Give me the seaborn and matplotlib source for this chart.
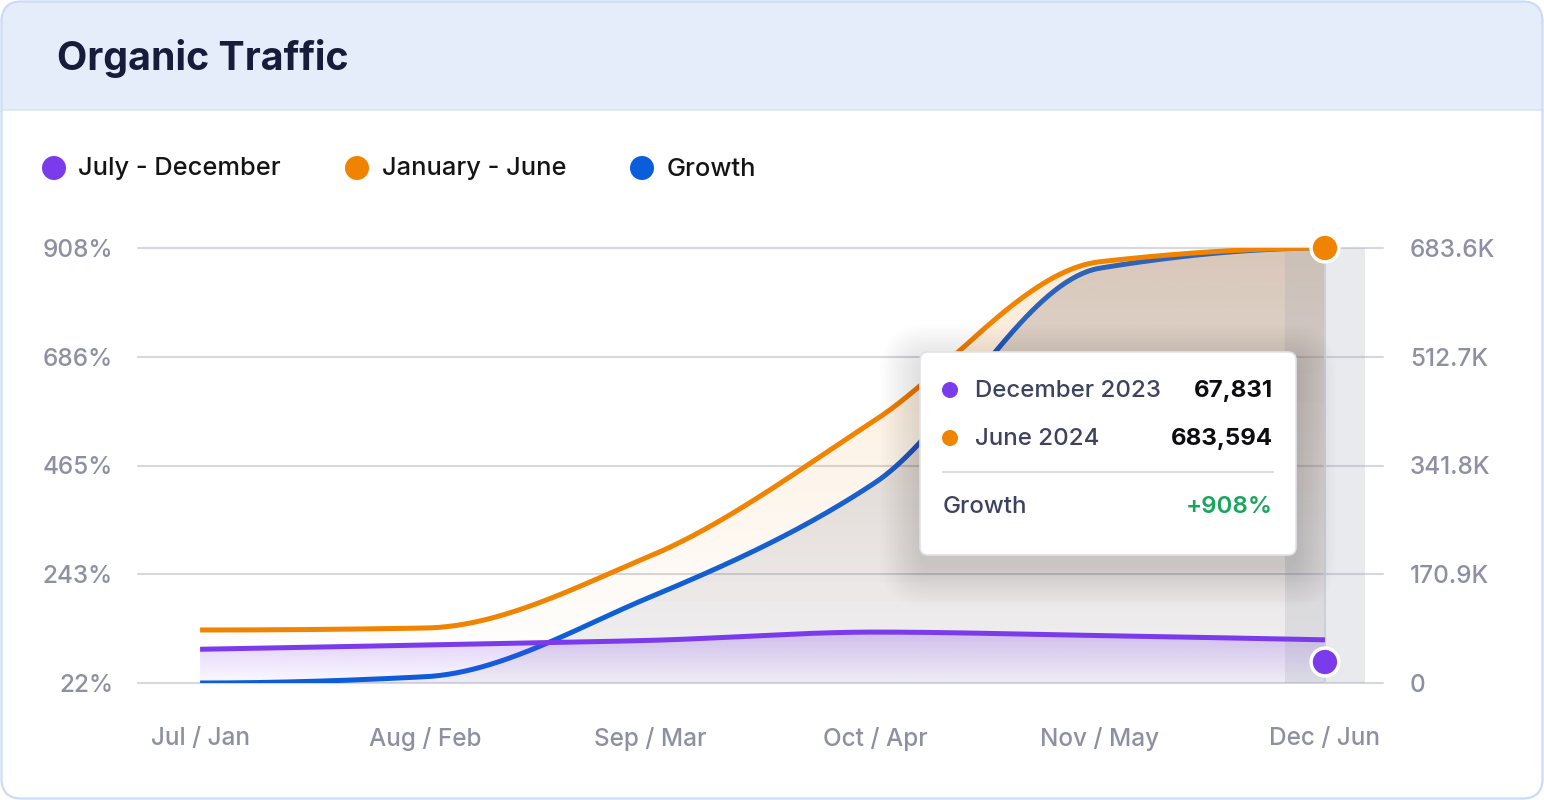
import numpy as np
import pandas as pd
import matplotlib
matplotlib.use("Agg")
import matplotlib.pyplot as plt
import matplotlib.transforms as mtransforms
from matplotlib.colors import to_rgb
from matplotlib.patches import FancyBboxPatch, Rectangle, Circle
from matplotlib.lines import Line2D
import seaborn as sns

# Values
categories = ["Jul / Jan", "Aug / Feb", "Sep / Mar", "Oct / Apr", "Nov / May", "Dec / Jun"]
jul_dec = [53000, 59700, 67000, 80000, 74500, 67831]
jan_jun = [83300, 86400, 199500, 413000, 662000, 683594]
growth = [22, 34.8, 197, 430, 867, 908]

left_ticks = [22, 243, 465, 686, 908]
right_ticks = [0, 170900, 341800, 512700, 683600]
right_labels = ["0", "170.9K", "341.8K", "512.7K", "683.6K"]

series_names = ["July - December", "January - June", "Growth"]
tooltip_rows = ["December 2023", "June 2024"]
hover_dot_jul_dec = 33000  # the purple hover dot sits below its line in the original

PURPLE = "#7C3AED"
ORANGE = "#F08300"
BLUE = "#0A5EDB"
GRID = "#D6D8DF"
TICK_TXT = "#8D90A3"

W, H = 1544, 800

sns.set_theme(style="white")
plt.rcParams["font.family"] = ["Inter", "DejaVu Sans"]


def smooth(xk, yk, n=400):
    # monotone cubic curve through the points (curve style of the original)
    xk = np.asarray(xk, float)
    yk = np.asarray(yk, float)
    h = np.diff(xk)
    d = np.diff(yk) / h
    m = np.zeros_like(yk)
    for k in range(1, len(yk) - 1):
        if d[k - 1] * d[k] > 0:
            w1 = 2 * h[k] + h[k - 1]
            w2 = h[k] + 2 * h[k - 1]
            m[k] = (w1 + w2) / (w1 / d[k - 1] + w2 / d[k])
    for i, (a, b, ha, hb) in enumerate([(d[0], d[1], h[0], h[1]), (d[-1], d[-2], h[-1], h[-2])]):
        e = ((2 * ha + hb) * a - ha * b) / (ha + hb)
        if np.sign(e) != np.sign(a):
            e = 0
        elif np.sign(a) != np.sign(b) and abs(e) > 3 * abs(a):
            e = 3 * a
        m[0 if i == 0 else -1] = e
    xs = np.linspace(xk[0], xk[-1], n)
    idx = np.clip(np.searchsorted(xk, xs, side="right") - 1, 0, len(xk) - 2)
    t = (xs - xk[idx]) / h[idx]
    h00 = 2 * t**3 - 3 * t**2 + 1
    h10 = t**3 - 2 * t**2 + t
    h01 = -2 * t**3 + 3 * t**2
    h11 = t**3 - t**2
    ys = h00 * yk[idx] + h10 * h[idx] * m[idx] + h01 * yk[idx + 1] + h11 * h[idx] * m[idx + 1]
    return xs, ys


def gradient_fill(ax, xs, ytop, ybot, color, a_hi, a_lo, y_hi, y_lo, zorder):
    poly = ax.fill_between(xs, ybot, ytop, facecolor="none", edgecolor="none")
    x0, x1 = ax.get_xlim()
    b0, b1 = ax.get_ylim()
    yv = np.linspace(b0, b1, 400)
    img = np.zeros((400, 2, 4))
    img[..., :3] = to_rgb(color)
    img[..., 3] = np.interp(yv, [y_lo, y_hi], [a_lo, a_hi])[:, None]
    im = ax.imshow(img, extent=[x0, x1, b0, b1], origin="lower", aspect="auto",
                   zorder=zorder, interpolation="bilinear")
    im.set_clip_path(poly.get_paths()[0], transform=ax.transData)
    ax.set_xlim(x0, x1)
    ax.set_ylim(b0, b1)


fig = plt.figure(figsize=(W / 100, H / 100), dpi=100)
fig.patch.set_facecolor("white")
# pixel coordinates, origin top-left
PX = mtransforms.Affine2D().scale(1 / W, -1 / H).translate(0, 1) + fig.transFigure

# card + header
card = FancyBboxPatch((1.5, 1.5), W - 3, H - 3, boxstyle="round,pad=0,rounding_size=20",
                      transform=PX, facecolor="white", edgecolor="none", zorder=-3)
fig.add_artist(card)
header = Rectangle((0, 0), W, 110, transform=PX, facecolor="#E5EDFA", edgecolor="none", zorder=-2)
fig.add_artist(header)
header.set_clip_path(card)
fig.add_artist(Line2D([1.5, W - 1.5], [110, 110], transform=PX, color="#D9E4F6", lw=1.2, zorder=-2))
fig.add_artist(FancyBboxPatch((1.5, 1.5), W - 3, H - 3, boxstyle="round,pad=0,rounding_size=20",
                              transform=PX, facecolor="none", edgecolor="#CADCF8", lw=1.6, zorder=-1))

fig.text(57, 58, "Organic Traffic", transform=PX, fontsize=28.3, fontweight="bold",
         color="#161C3A", va="center", ha="left")

# legend
for cx, tx, col, name in zip([54, 357, 642], [78, 382, 667], [PURPLE, ORANGE, BLUE], series_names):
    fig.add_artist(Circle((cx, 168), 12, transform=PX, facecolor=col, edgecolor="none"))
    fig.text(tx, 169, name, transform=PX, fontsize=18.3, fontweight="medium", color="#141414",
             va="center", ha="left")

# chart axes
ax = fig.add_axes([138 / W, (H - 683) / H, (1383 - 138) / W, (683 - 248) / H])
ax.set_facecolor("none")
ax2 = ax.twinx()
xk = np.arange(len(categories))
ax.set_xlim(-0.276, 5.258)
ax.set_ylim(left_ticks[0], left_ticks[-1])
ax2.set_ylim(right_ticks[0], right_ticks[-1])

xs, g_s = smooth(xk, growth)
_, o_s = smooth(xk, jan_jun)
_, p_s = smooth(xk, jul_dec)

# left axis: grey area + growth line
gradient_fill(ax, xs, g_s, np.full_like(xs, left_ticks[0]), "#5A5F82", 0.26, 0.08,
              left_ticks[-1], left_ticks[0], zorder=2)
sns.lineplot(data=pd.DataFrame({"x": xs, "y": g_s}), x="x", y="y", ax=ax, color=BLUE,
             lw=3.6, estimator=None, sort=False, solid_capstyle="butt", zorder=4)

# right axis: traffic areas + lines
gradient_fill(ax2, xs, p_s, np.zeros_like(xs), PURPLE, 0.26, 0.03, 80000, 0, zorder=2)
gradient_fill(ax2, xs, o_s, np.zeros_like(xs), ORANGE, 0.17, 0.0, right_ticks[-1], 0, zorder=3)
ax2.axvspan(4.822, 5.178, color="#A9ACB8", alpha=0.25, lw=0, zorder=4)
ax2.axvline(xk[-1], color="#CDD0D8", lw=1.5, zorder=4)
sns.lineplot(data=pd.DataFrame({"x": xs, "y": p_s}), x="x", y="y", ax=ax2, color=PURPLE,
             lw=3.6, estimator=None, sort=False, solid_capstyle="butt", zorder=5)
sns.lineplot(data=pd.DataFrame({"x": xs, "y": o_s}), x="x", y="y", ax=ax2, color=ORANGE,
             lw=3.6, estimator=None, sort=False, solid_capstyle="butt", zorder=6)
sns.scatterplot(x=[xk[-1], xk[-1]], y=[jan_jun[-1], hover_dot_jul_dec], ax=ax2,
                hue=[0, 1], palette=[ORANGE, PURPLE], legend=False, s=400,
                edgecolor="white", linewidth=2.5, zorder=10, clip_on=False)

# axes styling
for a in (ax, ax2):
    for sp in a.spines.values():
        sp.set_visible(False)
    a.set_xlabel("")
    a.set_ylabel("")
ax.set_xticks(xk)
ax.set_xticklabels(categories)
ax.set_yticks(left_ticks)
ax.set_yticklabels([f"{v}%" for v in left_ticks])
ax2.set_yticks(right_ticks)
ax2.set_yticklabels(right_labels)
ax.grid(axis="y", color=GRID, lw=1.5)
ax.set_axisbelow(True)
for gl in ax.get_ygridlines():
    gl.set_clip_on(False)
tick_font = dict(labelsize=17.5, labelcolor=TICK_TXT)
ax.tick_params(axis="x", length=16.5, width=1.5, color=GRID, pad=15, **tick_font)
ax.tick_params(axis="y", length=0, pad=18, **tick_font)
ax2.tick_params(axis="y", length=0, pad=19.5, **tick_font)
for lab in ax.get_xticklabels() + ax.get_yticklabels() + ax2.get_yticklabels():
    lab.set_fontweight("medium")

# tooltip with soft shadow
for i in range(32):
    g = i * 1.3
    fig.add_artist(FancyBboxPatch((920 - g, 352 - g + 12), 376 + 2 * g, 203 + 2 * g,
                                  boxstyle=f"round,pad=0,rounding_size={8 + g}", transform=PX,
                                  facecolor="#1E2140", edgecolor="none", alpha=0.0045, zorder=20))
fig.add_artist(FancyBboxPatch((920, 352), 376, 203, boxstyle="round,pad=0,rounding_size=8",
                              transform=PX, facecolor="white", edgecolor="#E1E2E8", lw=1.2, zorder=21))
for yy, col, lab, val in zip([390, 438], [PURPLE, ORANGE], tooltip_rows, [jul_dec[-1], jan_jun[-1]]):
    fig.add_artist(Circle((950, yy), 8, transform=PX, facecolor=col, edgecolor="none", zorder=22))
    fig.text(975, yy + 1, lab, transform=PX, fontsize=17.3, fontweight="medium", color="#3D4260",
             va="center", ha="left", zorder=22)
    fig.text(1273, yy + 1, f"{val:,}", transform=PX, fontsize=17.3, fontweight="bold", color="#0E0E12",
             va="center", ha="right", zorder=22)
fig.add_artist(Line2D([943, 1273], [472, 472], transform=PX, color="#DCDDE3", lw=1.5, zorder=22))
fig.text(943, 507, series_names[2], transform=PX, fontsize=17.3, fontweight="medium", color="#3D4260",
         va="center", ha="left", zorder=22)
fig.text(1273, 507, f"+{growth[-1]:.0f}%", transform=PX, fontsize=17.3, fontweight="semibold",
         color="#18A55C", va="center", ha="right", zorder=22)

fig.savefig("out.png", dpi=100)
